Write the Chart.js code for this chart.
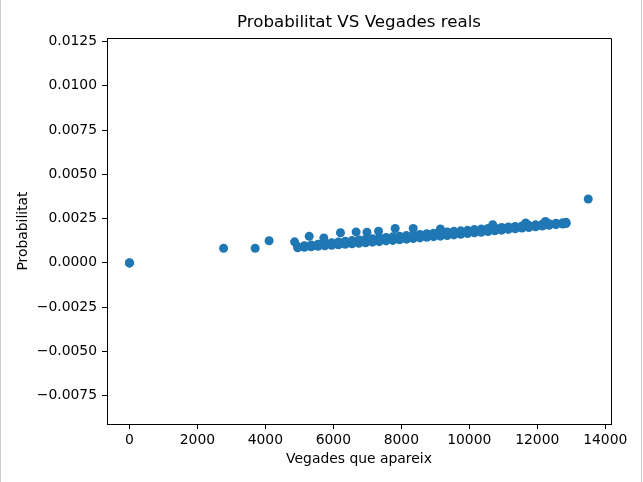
<!DOCTYPE html>
<html>
<head>
<meta charset="utf-8">
<script src="https://cdn.jsdelivr.net/npm/chart.js@4/dist/chart.umd.min.js"></script>
<style>
  body { margin: 0; background: #fff; }
  #wrap { width: 640px; height: 482px; border-left: 1px solid #cccccc; border-right: 1px solid #cccccc; }
</style>
</head>
<body>
<div id="wrap"><canvas id="chart" width="640" height="482"></canvas></div>
<script>
// main band of points (x = times seen, two rows)
const bandX = [4950, 5150, 5350, 5550, 5750, 5950, 6150, 6350, 6550, 6750, 6950, 7150, 7350, 7550,
    7750, 7950, 8150, 8350, 8550, 8750, 8950, 9150, 9350, 9550, 9750, 9950, 10150, 10350, 10550,
    10750, 10950, 11150, 11350, 11550, 11750, 11950, 12150, 12350, 12550, 12750, 12850];
const bandLow = [0.00085, 0.00088, 0.00091, 0.00094, 0.00097, 0.00099, 0.00102, 0.00105, 0.00108,
    0.00111, 0.00114, 0.00117, 0.00120, 0.00124, 0.00127, 0.00131, 0.00134, 0.00138, 0.00141,
    0.00145, 0.00148, 0.00151, 0.00155, 0.00158, 0.00162, 0.00166, 0.00170, 0.00173, 0.00177,
    0.00181, 0.00185, 0.00189, 0.00193, 0.00197, 0.00200, 0.00204, 0.00208, 0.00212, 0.00216,
    0.00219, 0.00222];
const bandHigh = [0.00092, 0.00097, 0.00101, 0.00105, 0.00110, 0.00114, 0.00118, 0.00122, 0.00126,
    0.00130, 0.00134, 0.00137, 0.00140, 0.00144, 0.00147, 0.00151, 0.00154, 0.00158, 0.00161,
    0.00165, 0.00168, 0.00171, 0.00175, 0.00178, 0.00181, 0.00184, 0.00188, 0.00191, 0.00194,
    0.00197, 0.00200, 0.00203, 0.00206, 0.00209, 0.00212, 0.00215, 0.00218, 0.00221, 0.00224,
    0.00227, 0.00229];

// separate points (zeros, early ones, bumps above the band, top outlier)
const extraX = [0, 0, 0, 2770, 3700, 4110, 4860, 5290, 5720, 6210, 6670, 6990, 7330, 7820, 8350,
    9150, 10690, 11660, 12240, 13500];
const extraY = [0, 0, 0, 0.00083, 0.00083, 0.00125, 0.00119, 0.00150, 0.00141, 0.00170, 0.00175,
    0.00173, 0.00179, 0.00194, 0.00194, 0.00192, 0.00216, 0.00225, 0.00234, 0.00361];

const xTicks = [0, 2000, 4000, 6000, 8000, 10000, 12000, 14000];
const yTicks = [-0.0075, -0.005, -0.0025, 0, 0.0025, 0.005, 0.0075, 0.01, 0.0125];

const points = [];
bandX.forEach((x, i) => points.push({ x: x, y: bandLow[i] }));
bandX.forEach((x, i) => points.push({ x: x, y: bandHigh[i] }));
extraX.forEach((x, i) => points.push({ x: x, y: extraY[i] }));

const FONT = 'DejaVu Sans';

// top and right lines of the box
const frame = {
    id: 'frame',
    afterDraw(chart) {
        const a = chart.chartArea;
        const ctx = chart.ctx;
        ctx.save();
        ctx.strokeStyle = '#000';
        ctx.lineWidth = 1;
        ctx.beginPath();
        ctx.moveTo(Math.round(a.left) + 0.5, Math.round(a.top) + 0.5);
        ctx.lineTo(Math.round(a.right) + 0.5, Math.round(a.top) + 0.5);
        ctx.lineTo(Math.round(a.right) + 0.5, Math.round(a.bottom) + 0.5);
        ctx.stroke();
        ctx.restore();
    }
};

new Chart(document.getElementById('chart'), {
    type: 'scatter',
    data: {
        datasets: [{
            data: points,
            backgroundColor: '#1f77b4',
            borderWidth: 0,
            pointRadius: 4.5,
            pointHoverRadius: 4.5
        }]
    },
    plugins: [frame],
    options: {
        responsive: false,
        animation: false,
        layout: { padding: { left: 0, right: 30, top: 0, bottom: 0 } },
        plugins: {
            legend: { display: false },
            tooltip: { enabled: false },
            title: {
                display: true,
                fullSize: false,
                text: 'Probabilitat VS Vegades reals',
                color: '#000',
                font: { family: FONT, size: 16.7, weight: 'normal' },
                padding: { top: 13, bottom: 5 }
            }
        },
        scales: {
            x: {
                type: 'linear',
                min: -660,
                max: 14170,
                afterBuildTicks: s => { s.ticks = xTicks.map(v => ({ value: v })); },
                afterFit: s => { s.height = 58; },
                ticks: {
                    color: '#000',
                    padding: 3,
                    maxRotation: 0,
                    font: { family: FONT, size: 13.9 },
                    callback: v => String(v)
                },
                grid: { drawOnChartArea: false, drawTicks: true, tickLength: 5, color: '#000' },
                border: { display: true, color: '#000' },
                title: {
                    display: true,
                    text: 'Vegades que apareix',
                    color: '#000',
                    font: { family: FONT, size: 13.9 },
                    padding: { top: 0, bottom: 14 }
                }
            },
            y: {
                type: 'linear',
                min: -0.0091,
                max: 0.0127,
                afterBuildTicks: s => { s.ticks = yTicks.map(v => ({ value: v })); },
                afterFit: s => { s.width = 106; },
                ticks: {
                    color: '#000',
                    padding: 5,
                    font: { family: FONT, size: 13.9 },
                    callback: v => (v < 0 ? '\u2212' : '') + Math.abs(v).toFixed(4)
                },
                grid: { drawOnChartArea: false, drawTicks: true, tickLength: 5, color: '#000' },
                border: { display: true, color: '#000' },
                title: {
                    display: true,
                    text: 'Probabilitat',
                    color: '#000',
                    font: { family: FONT, size: 13.9 },
                    padding: { top: 14, bottom: 0 }
                }
            }
        }
    }
});
</script>
</body>
</html>
